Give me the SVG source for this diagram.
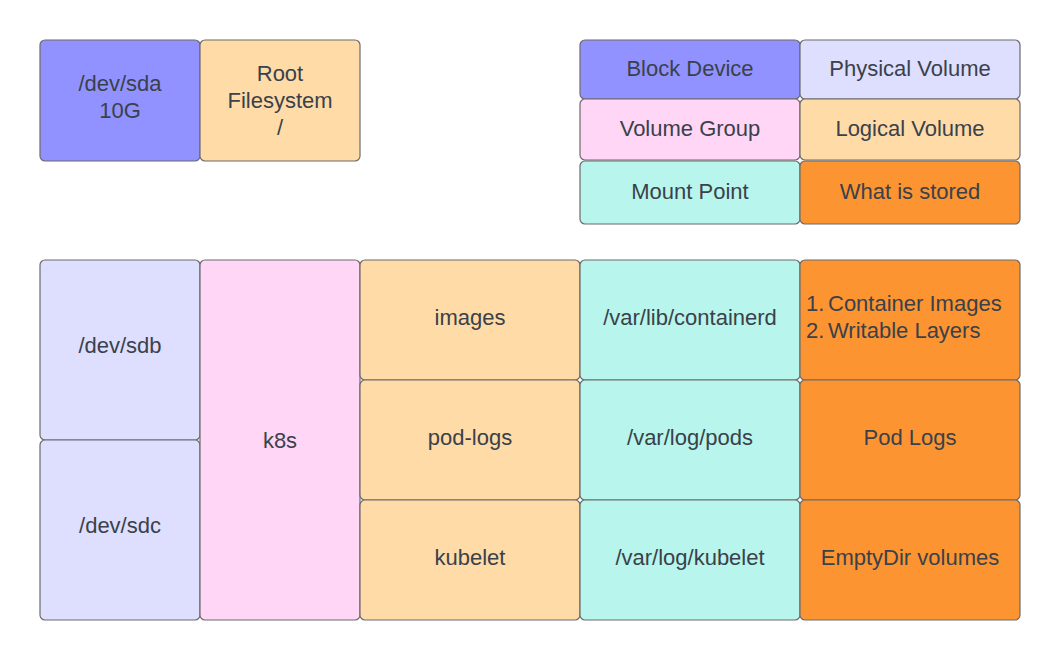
<svg xmlns="http://www.w3.org/2000/svg" width="1060" height="660" viewBox="0 0 1060 660">
<style>
.n{stroke:#6b6b6b;stroke-width:1.2}
text{font-family:"Liberation Sans",Arial,sans-serif;font-size:22px;fill:#3a414a;text-anchor:middle;dominant-baseline:central}
.bd{fill:#9191ff}.pv{fill:#dedeff}.vg{fill:#ffd6f6}.lv{fill:#ffdba8}.mp{fill:#b8f5ec}.ws{fill:#fc9432}
.l{text-anchor:start}
</style>
<rect width="1060" height="660" fill="#fff"/>
<g id="sda"><rect class="n bd" x="40" y="40" width="160" height="121" rx="5"/><text x="120" y="83">/dev/sda</text><text x="120" y="110">10G</text></g>
<g id="rootfs"><rect class="n lv" x="200" y="40" width="160" height="121" rx="5"/><text x="280" y="73">Root</text><text x="280" y="100">Filesystem</text><text x="280" y="127">/</text></g>
<g id="legend-bd"><rect class="n bd" x="580" y="40" width="220" height="59" rx="5"/><text x="690" y="68">Block Device</text></g>
<g id="legend-pv"><rect class="n pv" x="800" y="40" width="220" height="59" rx="5"/><text x="910" y="68">Physical Volume</text></g>
<g id="legend-vg"><rect class="n vg" x="580" y="99" width="220" height="61" rx="5"/><text x="690" y="128">Volume Group</text></g>
<g id="legend-lv"><rect class="n lv" x="800" y="99" width="220" height="61" rx="5"/><text x="910" y="128">Logical Volume</text></g>
<g id="legend-mp"><rect class="n mp" x="580" y="161" width="220" height="63" rx="5"/><text x="690" y="191">Mount Point</text></g>
<g id="legend-ws"><rect class="n ws" x="800" y="161" width="220" height="63" rx="5"/><text x="910" y="191">What is stored</text></g>
<g id="sdb"><rect class="n pv" x="40" y="260" width="160" height="180" rx="5"/><text x="120" y="345">/dev/sdb</text></g>
<g id="sdc"><rect class="n pv" x="40" y="440" width="160" height="180" rx="5"/><text x="120" y="525">/dev/sdc</text></g>
<g id="k8s"><rect class="n vg" x="200" y="260" width="160" height="360" rx="5"/><text x="280" y="440">k8s</text></g>
<g id="images"><rect class="n lv" x="360" y="260" width="220" height="120" rx="5"/><text x="470" y="317">images</text></g>
<g id="podlogs"><rect class="n lv" x="360" y="380" width="220" height="120" rx="5"/><text x="470" y="437">pod-logs</text></g>
<g id="kubelet"><rect class="n lv" x="360" y="500" width="220" height="120" rx="5"/><text x="470" y="557">kubelet</text></g>
<g id="mp-containerd"><rect class="n mp" x="580" y="260" width="220" height="120" rx="5"/><text x="690" y="317">/var/lib/containerd</text></g>
<g id="mp-pods"><rect class="n mp" x="580" y="380" width="220" height="120" rx="5"/><text x="690" y="437">/var/log/pods</text></g>
<g id="mp-kubelet"><rect class="n mp" x="580" y="500" width="220" height="120" rx="5"/><text x="690" y="557">/var/log/kubelet</text></g>
<g id="ws-images"><rect class="n ws" x="800" y="260" width="220" height="120" rx="5"/><text class="l" x="806" y="303">1.</text><text class="l" x="828" y="303">Container Images</text><text class="l" x="806" y="330">2.</text><text class="l" x="828" y="330">Writable Layers</text></g>
<g id="ws-logs"><rect class="n ws" x="800" y="380" width="220" height="120" rx="5"/><text x="910" y="437">Pod Logs</text></g>
<g id="ws-empty"><rect class="n ws" x="800" y="500" width="220" height="120" rx="5"/><text x="910" y="557">EmptyDir volumes</text></g>
<g id="connectors"/>
</svg>
